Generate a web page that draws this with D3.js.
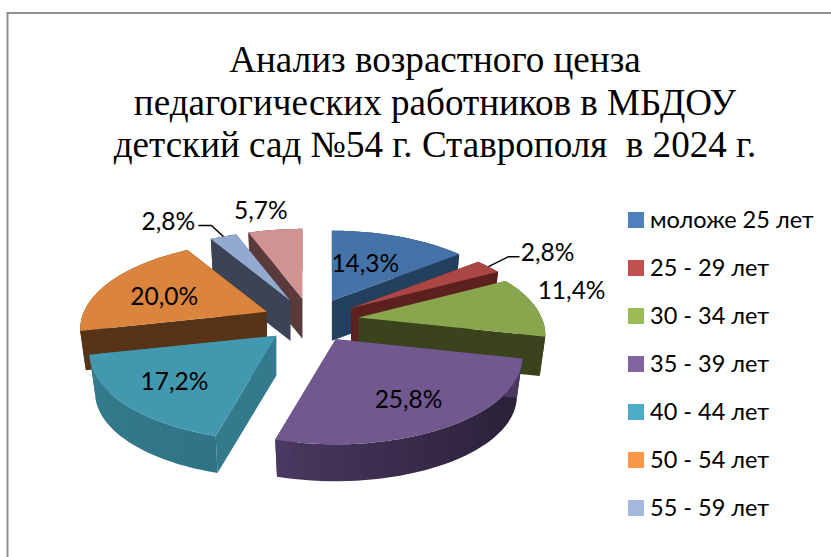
<!DOCTYPE html>
<html>
<head>
<meta charset="utf-8">
<script src="https://cdn.jsdelivr.net/npm/d3@7"></script>
<style>
    html, body { margin: 0; padding: 0; background: #fff; }
    svg { display: block; }
    .title { font-family: "Liberation Serif", serif; font-size: 37.1px; fill: #000; white-space: pre; }
    .label, .legend-text { font-family: Lato, "Open Sans", sans-serif; fill: #000; }
    .label { font-size: 24.5px; }
    .legend-text { font-size: 23.5px; }
</style>
</head>
<body>
<div id="chart"></div>
<script>
const titleLines = [
    'Анализ возрастного ценза',
    'педагогических работников в МБДОУ',
    'детский сад №54 г. Ставрополя  в 2024 г.'
];
// the reference legend stops at seven names, the eighth entry is cut off
const categories = ['моложе 25 лет', '25 - 29 лет', '30 - 34 лет', '35 - 39 лет', '40 - 44 лет', '50 - 54 лет', '55 - 59 лет'];
const values = [14.3, 2.8, 11.4, 25.8, 17.2, 20.0, 2.8, 5.7];

const topColors = ['#4572a7', '#aa4643', '#89a54e', '#71588f', '#4198af', '#db843d', '#93a9cf', '#d19392'];
const wallColors = ['#23405f', '#5c201f', '#3a431c', '#4a3860', '#337a8c', '#573417', '#3b4356', '#5a3a3a'];
const rimColors = ['#23405f', '#5c201f', '#56652c', '#2a2038', '#2f7386', '#573417', '#3b4356', '#5a3a3a'];
const legendColors = ['#4f81bd', '#c0504d', '#9bbb59', '#8064a2', '#4bacc6', '#f79646', '#a4b8de'];

const width = 831;
const height = 557;

// Pie geometry: perspective ellipse, every slice pushed out from the centre
const cx = 311, cy = 320.5;
const rx = 183, ry = 84, persp = 0.2;
const explodeX = 48, explodeY = 22;
const depth = 40, bottomScale = 0.97;

// Draw order, back slices first
const drawOrder = [7, 6, 0, 1, 2, 5, 4, 3];

// Label placement: radius along the middle of the slice, then a small shift
const labelPlaces = [
    { r: 0.5, dx: -3, dy: -3 },
    { r: 1, dx: 59, dy: -15 },
    { r: 1.15, dx: 11, dy: -15 },
    { r: 0.65, dx: 4, dy: 6 },
    { r: 0.7, dx: 1, dy: 0 },
    { r: 0.65, dx: 1, dy: 4 },
    { r: 1, dx: -55, dy: -16 },
    { r: 1.15, dx: -11, dy: -12 }
];

const slices = d3.pie().sort(null).value(d => d)(values);

function project(angle, r) {
    const u = r * Math.sin(angle);
    const v = -r * Math.cos(angle);
    const k = 1 / (1 - persp * v);
    return [rx * u * k, ry * v * k];
}

function apexOf(slice) {
    const mid = (slice.startAngle + slice.endAngle) / 2;
    return [cx + explodeX * Math.sin(mid), cy - explodeY * Math.cos(mid)];
}

function topPoint(slice, angle, r) {
    const apex = apexOf(slice);
    const p = project(angle, r);
    return [apex[0] + p[0], apex[1] + p[1]];
}

function bottomPoint(slice, angle, r) {
    const apex = apexOf(slice);
    const p = project(angle, r);
    return [apex[0] + p[0] * bottomScale, apex[1] + p[1] * bottomScale + depth];
}

const angleSteps = slice => d3.range(0, 41).map(i => slice.startAngle + (slice.endAngle - slice.startAngle) * i / 40);
const outline = d3.line();

const svg = d3.select('#chart').append('svg')
    .attr('width', width)
    .attr('height', height)
    .attr('viewBox', [0, 0, width, height]);

// Frame of the pasted chart: only left and top edges are in the crop
svg.append('path')
    .attr('d', `M7.5,${height}V13H${width}`)
    .attr('fill', 'none')
    .attr('stroke', '#8f8f8f')
    .attr('stroke-width', 2);

// Title
svg.append('g').selectAll('text')
    .data(titleLines)
    .join('text')
    .attr('class', 'title')
    .attr('x', 435)
    .attr('y', (d, i) => 72 + i * 42.5)
    .attr('text-anchor', 'middle')
    .attr('xml:space', 'preserve')
    .text(d => d);

// Gradients for the curved outer walls
const defs = svg.append('defs');
slices.forEach((s, i) => {
    const a = topPoint(s, s.startAngle, 1);
    const b = topPoint(s, s.endAngle, 1);
    const grad = defs.append('linearGradient')
        .attr('id', `rim-${i}`)
        .attr('gradientUnits', 'userSpaceOnUse')
        .attr('x1', b[0]).attr('y1', 0)
        .attr('x2', a[0]).attr('y2', 0);
    grad.append('stop').attr('offset', 0).attr('stop-color', wallColors[i]);
    grad.append('stop').attr('offset', 1).attr('stop-color', rimColors[i]);
});

// Slices, painted back to front
const pie = svg.append('g');
drawOrder.forEach(i => {
    const s = slices[i];
    const g = pie.append('g').attr('class', 'slice');
    const steps = angleSteps(s);
    const apexTop = topPoint(s, 0, 0);
    const apexBottom = bottomPoint(s, 0, 0);

    // outer wall
    g.append('path')
        .attr('d', outline([
            ...steps.map(a => topPoint(s, a, 1)),
            ...steps.slice().reverse().map(a => bottomPoint(s, a, 1))
        ]) + 'Z')
        .attr('fill', `url(#rim-${i})`);

    // radial walls
    [s.startAngle, s.endAngle].forEach(a => {
        g.append('path')
            .attr('d', outline([apexTop, topPoint(s, a, 1), bottomPoint(s, a, 1), apexBottom]) + 'Z')
            .attr('fill', wallColors[i]);
    });

    // top face
    g.append('path')
        .attr('d', outline([apexTop, ...steps.map(a => topPoint(s, a, 1))]) + 'Z')
        .attr('fill', topColors[i]);
});

// Leader lines for the two thin slices
function leader(slice, first, second) {
    const mid = (slice.startAngle + slice.endAngle) / 2;
    const p0 = topPoint(slice, mid, 1);
    const p1 = [p0[0] + first[0], p0[1] + first[1]];
    const p2 = [p1[0] + second[0], p1[1] + second[1]];
    svg.append('path')
        .attr('d', outline([p0, p1, p2]))
        .attr('fill', 'none')
        .attr('stroke', '#000')
        .attr('stroke-width', 1.5);
}
leader(slices[1], [20, -10], [11, 0]);
leader(slices[6], [-12, -11], [-13, 0]);

// Data labels
svg.append('g').selectAll('text')
    .data(slices)
    .join('text')
    .attr('class', 'label')
    .attr('text-anchor', 'middle')
    .attr('dominant-baseline', 'central')
    .attr('x', (d, i) => topPoint(d, (d.startAngle + d.endAngle) / 2, labelPlaces[i].r)[0] + labelPlaces[i].dx)
    .attr('y', (d, i) => topPoint(d, (d.startAngle + d.endAngle) / 2, labelPlaces[i].r)[1] + labelPlaces[i].dy)
    .text(d => d.value.toFixed(1).replace('.', ',') + '%');

// Legend
const legendY = d3.scalePoint().domain(categories).range([220, 508]);
const legend = svg.append('g').selectAll('g')
    .data(categories)
    .join('g')
    .attr('transform', d => `translate(628,${legendY(d)})`);

legend.append('rect')
    .attr('x', 0)
    .attr('y', -8)
    .attr('width', 16)
    .attr('height', 16)
    .attr('fill', (d, i) => legendColors[i]);

legend.append('text')
    .attr('class', 'legend-text')
    .attr('x', 22)
    .attr('y', 8)
    .text(d => d);
</script>
</body>
</html>
